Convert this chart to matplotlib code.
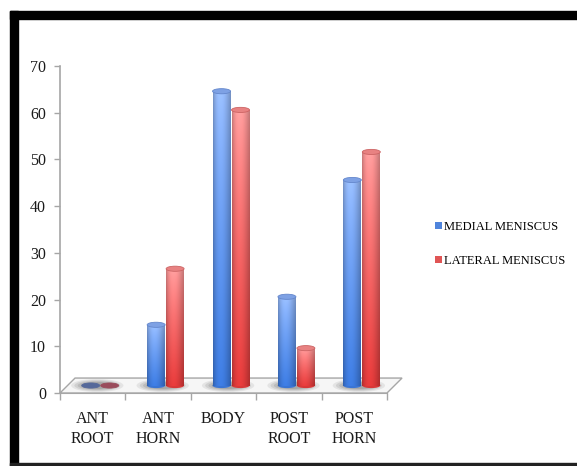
import numpy as np
import matplotlib
matplotlib.use("Agg")
import matplotlib.pyplot as plt
from matplotlib.patches import Rectangle, Ellipse, Polygon, Patch
from matplotlib.colors import to_rgb

# meniscus tear location counts
categories = ["ANT\nROOT", "ANT\nHORN", "BODY", "POST\nROOT", "POST\nHORN"]
medial = [0, 13, 63, 19, 44]
lateral = [0, 25, 59, 8, 50]
series_names = ["MEDIAL MENISCUS", "LATERAL MENISCUS"]

W, H = 577, 466
plt.rcParams["font.family"] = ["Liberation Serif", "DejaVu Serif"]

fig = plt.figure(figsize=(W / 100, H / 100), dpi=100)
ax = fig.add_axes([60 / W, (H - 393) / H, 327 / W, 327 / H])
ax.set_xlim(0, 5)
ax.set_ylim(0, 70)

grey = "#a6a6a6"
depth_x, depth_y = 0.23, 3.2       # floor depth in data units
bar_w = 0.275
cap_h = 1.1

# floor slab
floor = Polygon([(0, 0), (5, 0), (5 + depth_x, depth_y), (depth_x, depth_y)],
                closed=True, facecolor="#f6f6f6", edgecolor=grey, lw=1.0,
                zorder=1, clip_on=False)
ax.add_patch(floor)

# soft shadows under each pair
for i in range(len(categories)):
    for k, a in enumerate([0.12, 0.16, 0.2, 0.26]):
        ax.add_patch(Ellipse((i + 0.57, depth_y / 2), 0.8 - k * 0.1, 2.8 - k * 0.45,
                             facecolor="#6a6a6a", edgecolor="none", alpha=a,
                             zorder=2, clip_on=False))


def cylinder(xc, base, h, top_c, bot_c, cap_face, cap_edge, zo):
    x0 = xc - bar_w / 2
    if h > 0:
        ax.add_patch(Ellipse((xc, base), bar_w, cap_h, facecolor=bot_c,
                             edgecolor="none", zorder=zo, clip_on=False))
        u = np.linspace(0, 1, 60)
        shade = 0.80 + 0.28 * np.sin(np.pi * u ** 0.8)
        v = np.linspace(0, 1, 80)[:, None] ** 0.8
        col = np.array(to_rgb(top_c)) * (1 - v) + np.array(to_rgb(bot_c)) * v
        img = np.clip(col[:, None, :] * shade[None, :, None], 0, 1)
        im = ax.imshow(img, extent=(x0, x0 + bar_w, base, base + h),
                       aspect="auto", interpolation="bilinear", zorder=zo)
        body = Rectangle((x0, base), bar_w, h, transform=ax.transData)
        im.set_clip_path(body)
    ax.add_patch(Ellipse((xc, base + h), bar_w, cap_h, facecolor=cap_face,
                         edgecolor=cap_edge, lw=0.6, zorder=zo + 0.5, clip_on=False))


base = depth_y / 2
for i in range(len(categories)):
    cx = i + 0.5 + depth_x / 2
    if medial[i] > 0:
        cylinder(cx - 0.145, base, medial[i], "#92b5f2", "#3a75d5", "#7ea1e4", "#6487cc", 3)
    else:
        cylinder(cx - 0.145, base, 0, None, None, "#56699a", "#56699a", 3)
    if lateral[i] > 0:
        cylinder(cx + 0.145, base, lateral[i], "#f59797", "#d93838", "#e88282", "#cc6464", 4)
    else:
        cylinder(cx + 0.145, base, 0, None, None, "#9a4c5c", "#9a4c5c", 4)

ax.set_xlim(0, 5)
ax.set_ylim(0, 70)

for s in ["top", "right"]:
    ax.spines[s].set_visible(False)
ax.spines["left"].set_color(grey)
ax.spines["bottom"].set_color(grey)
ax.spines["left"].set_linewidth(1.2)

ax.set_xticks(range(6))
ax.set_xticklabels([])
ax.set_xticks(np.arange(len(categories)) + 0.5, minor=True)
ax.set_xticklabels(categories, minor=True, fontsize=11.5, linespacing=1.35, color="#1a1a1a")
ax.tick_params(axis="x", which="major", length=5, color=grey, width=1)
ax.tick_params(axis="x", which="minor", length=0, pad=13)
ax.set_yticks(range(0, 71, 10))
ax.tick_params(axis="y", length=4, color=grey, width=1, labelsize=11.5,
               pad=6, labelcolor="#1a1a1a")

handles = [Patch(facecolor="#4f84dc", edgecolor="none"),
           Patch(facecolor="#e05555", edgecolor="none")]
fig.legend(handles, series_names, loc="upper left",
           bbox_to_anchor=(435 / W, 1 - 221 / H), frameon=False,
           fontsize=9.0, handlelength=0.55, handleheight=0.55,
           handletextpad=0.2, labelspacing=1.75, borderpad=0, borderaxespad=0)

# black frame around the chart
fig.patches.append(Rectangle((10 / W, 1 - 19 / H), 1, 8 / H, color="black",
                             transform=fig.transFigure))
fig.patches.append(Rectangle((10 / W, 0), 8 / W, 1 - 11 / H, color="black",
                             transform=fig.transFigure))
fig.patches.append(Rectangle((10 / W, 0), 1, 3 / H, color="#222222",
                             transform=fig.transFigure))

fig.savefig("out.png", dpi=100)
